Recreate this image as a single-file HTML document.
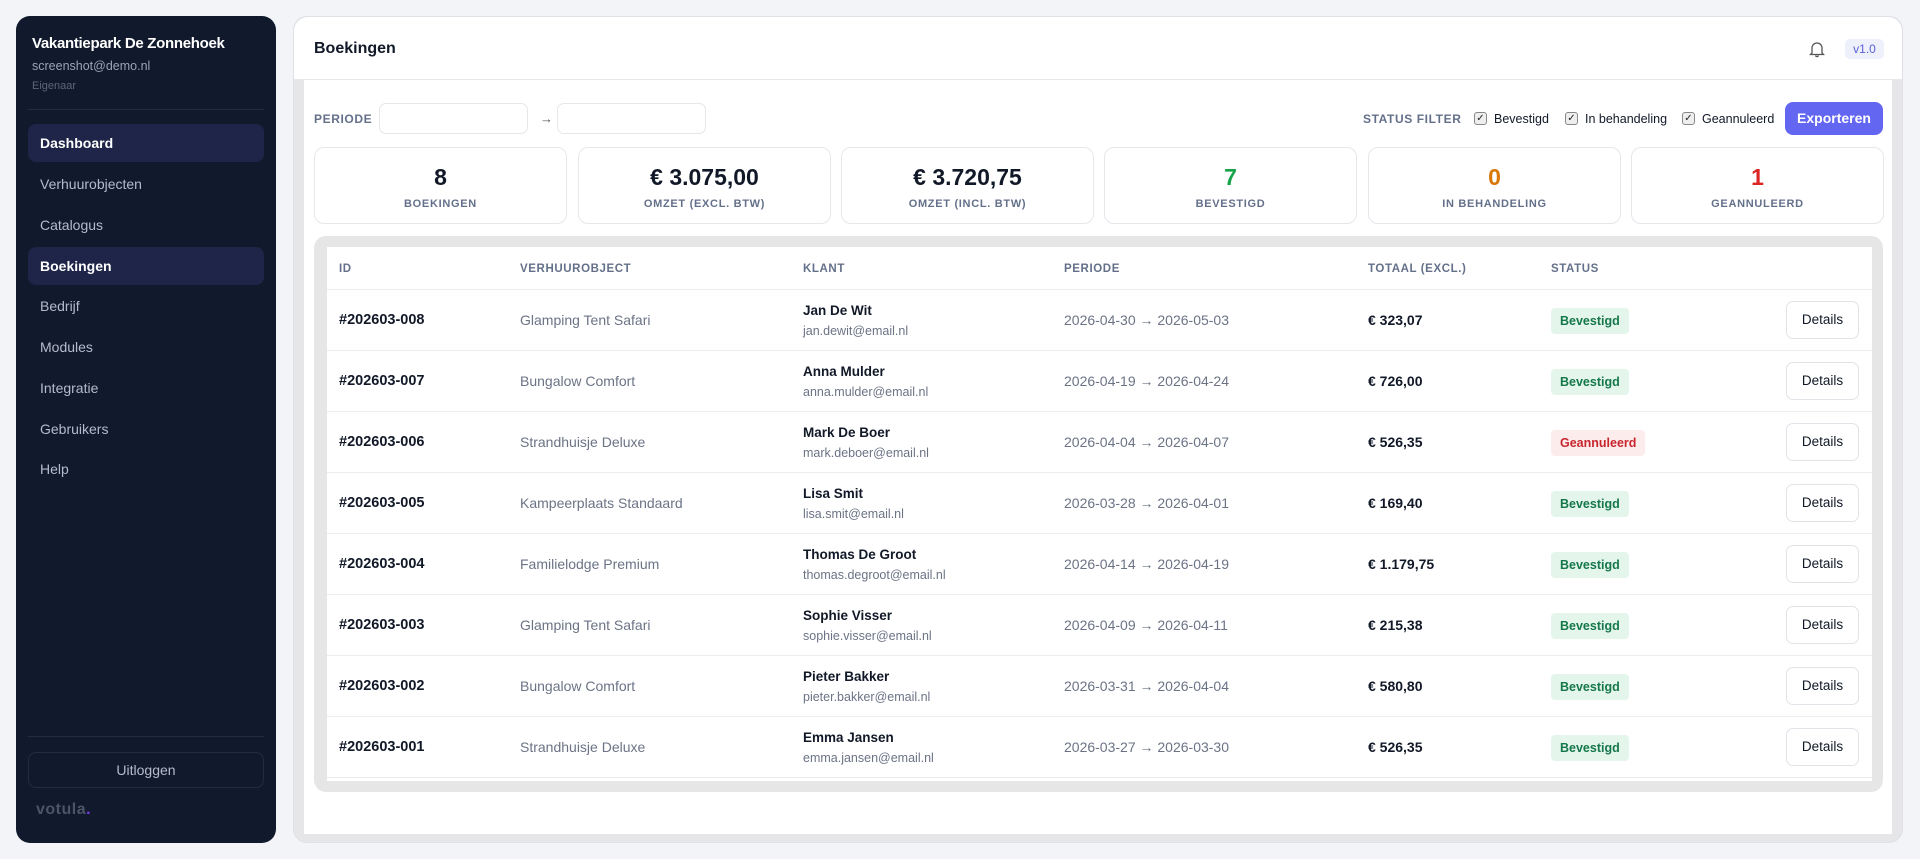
<!DOCTYPE html>
<html><head><meta charset="utf-8"><style>
*{box-sizing:border-box;margin:0;padding:0}
body{width:1920px;height:859px;background:#f3f4f8;font-family:"Liberation Sans",sans-serif;position:relative;overflow:hidden;color:#111827}
.side{position:absolute;left:16px;top:16px;width:260px;height:827px;background:#111a2c;border-radius:14px}
.side .t{position:absolute;left:16px;top:19px;color:#fff;font-weight:bold;font-size:15px;letter-spacing:-0.3px}
.side .e{position:absolute;left:16px;top:43px;color:#9aa3b5;font-size:12.5px}
.side .r{position:absolute;left:16px;top:64px;color:#5d6679;font-size:11px}
.side .d{position:absolute;left:12px;right:12px;height:1px;background:#232c40}
.nav{position:absolute;left:12px;width:236px;height:38px;border-radius:8px;color:#b4bccb;font-size:14px;line-height:38px;padding-left:12px}
.nav.a{background:#1e2548;color:#fff;font-weight:bold}
.logout{position:absolute;left:12px;top:736px;width:236px;height:36px;border:1px solid #232c40;border-radius:8px;color:#b4bccb;font-size:14px;text-align:center;line-height:34px}
.logo{position:absolute;left:20px;top:785px;color:#4b5468;font-weight:bold;font-size:16px;letter-spacing:0.5px}
.logo b{color:#7c3aed}
.main{position:absolute;left:293px;top:16px;width:1610px;height:827px;background:#e6e6e8;border-radius:14px;border:1px solid #dfe1e6}
.hdr{position:absolute;left:0;top:0;width:1608px;height:63px;background:#fff;border-radius:14px 14px 0 0;border-bottom:1px solid #e5e7eb}
.hdr .h{position:absolute;left:20px;top:23px;font-size:16px;font-weight:bold;color:#111827}
.ver{position:absolute;left:1551px;top:22px;width:39px;height:20px;background:#eef0fb;color:#5b5fd6;border-radius:5px;font-size:12px;text-align:center;line-height:20px}
.body{position:absolute;left:10px;top:63px;width:1588px;height:754px;background:#fff}
.lbl{font-size:12px;font-weight:bold;color:#64708a;letter-spacing:0.6px}
.inp{position:absolute;top:23px;width:149px;height:31px;border:1px solid #e5e7eb;border-radius:7px;background:#fff}
.cb{display:inline-block;width:13px;height:13px;border:1px solid #888;border-radius:3px;background:#eee;font-size:10px;line-height:11px;text-align:center;margin-right:7px;color:#222}
.fl{position:absolute;top:31px;font-size:12.5px;color:#111827;display:flex;align-items:center;height:15px}
.exp{position:absolute;left:1481px;top:22px;width:98px;height:33px;background:#6366f1;color:#fff;font-weight:bold;font-size:14px;border-radius:8px;text-align:center;line-height:33px}
.card{position:absolute;top:67px;width:253px;height:77px;border:1px solid #e5e7eb;border-radius:10px;text-align:center;background:#fff}
.card .v{margin-top:16px;font-size:23px;font-weight:bold;color:#111827;height:28px}
.card .l{margin-top:6px;font-size:11px;font-weight:bold;color:#64708a;letter-spacing:0.7px}
.tw{position:absolute;left:10px;top:156px;width:1569px;height:556px;background:#e6e6e6;border-radius:12px}
.tin{position:absolute;left:13px;top:11px;width:1545px;height:534px;background:#fff;overflow:hidden}
.th{position:absolute;top:0;height:42px;line-height:44px;font-size:11.5px;font-weight:bold;color:#64708a;letter-spacing:0.6px}
.row{position:absolute;left:0;width:1545px;height:61px;border-top:1px solid #ececef}
.row div{position:absolute}
.id{left:12px;top:22px;font-weight:bold;font-size:14.5px}
.ob{left:193px;top:22px;font-size:14px;color:#6b7385}
.nm{left:476px;top:13px;font-weight:bold;font-size:13.5px}
.em{left:476px;top:34px;font-size:12.5px;color:#6b7385}
.pe{left:737px;top:22px;font-size:14px;color:#6b7385}
.to{left:1041px;top:22px;font-weight:bold;font-size:14px}
.bd{left:1224px;top:18px;height:26px;line-height:26px;padding:0 9px;border-radius:4px;font-size:12.5px;font-weight:bold}
.ok{background:#e4f6ec;color:#16784a}
.no{background:#fdecec;color:#c8262e}
.dt{left:1459px;top:11px;width:73px;height:38px;border:1px solid #e1e3e8;border-radius:7px;font-size:13.5px;text-align:center;line-height:36px;color:#111827}
</style></head><body>
<div class="side">
<div class="t">Vakantiepark De Zonnehoek</div>
<div class="e">screenshot@demo.nl</div>
<div class="r">Eigenaar</div>
<div class="d" style="top:93px"></div>
<div class="nav a" style="top:108px">Dashboard</div>
<div class="nav" style="top:149px">Verhuurobjecten</div>
<div class="nav" style="top:190px">Catalogus</div>
<div class="nav a" style="top:231px">Boekingen</div>
<div class="nav" style="top:271px">Bedrijf</div>
<div class="nav" style="top:312px">Modules</div>
<div class="nav" style="top:353px">Integratie</div>
<div class="nav" style="top:394px">Gebruikers</div>
<div class="nav" style="top:434px">Help</div>
<div class="d" style="top:720px"></div>
<div class="logout">Uitloggen</div>
<div class="logo">votula<b>.</b></div>
</div>
<div class="main">
<div class="hdr"><div class="h">Boekingen</div>
<svg style="position:absolute;left:1515px;top:23px" width="16" height="18" viewBox="0 0 16 18"><path d="M3 13V8a5 5 0 0 1 10 0v5l1.5 1.5h-13z M6.5 15.5a1.6 1.6 0 0 0 3 0" fill="none" stroke="#555" stroke-width="1.3"/></svg>
<div class="ver">v1.0</div></div>
<div class="body">
<div class="lbl" style="position:absolute;left:10px;top:32px">PERIODE</div>
<div class="inp" style="left:75px"></div>
<div style="position:absolute;left:236px;top:31px;font-size:13px;color:#555">→</div>
<div class="inp" style="left:253px"></div>
<div class="lbl" style="position:absolute;left:1059px;top:32px">STATUS FILTER</div>
<div class="fl" style="left:1170px"><span class="cb">✓</span>Bevestigd</div>
<div class="fl" style="left:1261px"><span class="cb">✓</span>In behandeling</div>
<div class="fl" style="left:1378px"><span class="cb">✓</span>Geannuleerd</div>
<div class="exp">Exporteren</div>
<div class="card" style="left:10px"><div class="v">8</div><div class="l">BOEKINGEN</div></div>
<div class="card" style="left:274px"><div class="v">€ 3.075,00</div><div class="l">OMZET (EXCL. BTW)</div></div>
<div class="card" style="left:537px"><div class="v">€ 3.720,75</div><div class="l">OMZET (INCL. BTW)</div></div>
<div class="card" style="left:800px"><div class="v" style="color:#16a34a">7</div><div class="l">BEVESTIGD</div></div>
<div class="card" style="left:1064px"><div class="v" style="color:#d97706">0</div><div class="l">IN BEHANDELING</div></div>
<div class="card" style="left:1327px"><div class="v" style="color:#dc2626">1</div><div class="l">GEANNULEERD</div></div>
<div class="tw"><div class="tin">
<div class="th" style="left:12px">ID</div>
<div class="th" style="left:193px">VERHUUROBJECT</div>
<div class="th" style="left:476px">KLANT</div>
<div class="th" style="left:737px">PERIODE</div>
<div class="th" style="left:1041px">TOTAAL (EXCL.)</div>
<div class="th" style="left:1224px">STATUS</div>
<div class="row" style="top:42px"><div class="id">#202603-008</div><div class="ob">Glamping Tent Safari</div><div class="nm">Jan De Wit</div><div class="em">jan.dewit@email.nl</div><div class="pe">2026-04-30 → 2026-05-03</div><div class="to">€ 323,07</div><div class="bd ok">Bevestigd</div><div class="dt">Details</div></div>
<div class="row" style="top:103px"><div class="id">#202603-007</div><div class="ob">Bungalow Comfort</div><div class="nm">Anna Mulder</div><div class="em">anna.mulder@email.nl</div><div class="pe">2026-04-19 → 2026-04-24</div><div class="to">€ 726,00</div><div class="bd ok">Bevestigd</div><div class="dt">Details</div></div>
<div class="row" style="top:164px"><div class="id">#202603-006</div><div class="ob">Strandhuisje Deluxe</div><div class="nm">Mark De Boer</div><div class="em">mark.deboer@email.nl</div><div class="pe">2026-04-04 → 2026-04-07</div><div class="to">€ 526,35</div><div class="bd no">Geannuleerd</div><div class="dt">Details</div></div>
<div class="row" style="top:225px"><div class="id">#202603-005</div><div class="ob">Kampeerplaats Standaard</div><div class="nm">Lisa Smit</div><div class="em">lisa.smit@email.nl</div><div class="pe">2026-03-28 → 2026-04-01</div><div class="to">€ 169,40</div><div class="bd ok">Bevestigd</div><div class="dt">Details</div></div>
<div class="row" style="top:286px"><div class="id">#202603-004</div><div class="ob">Familielodge Premium</div><div class="nm">Thomas De Groot</div><div class="em">thomas.degroot@email.nl</div><div class="pe">2026-04-14 → 2026-04-19</div><div class="to">€ 1.179,75</div><div class="bd ok">Bevestigd</div><div class="dt">Details</div></div>
<div class="row" style="top:347px"><div class="id">#202603-003</div><div class="ob">Glamping Tent Safari</div><div class="nm">Sophie Visser</div><div class="em">sophie.visser@email.nl</div><div class="pe">2026-04-09 → 2026-04-11</div><div class="to">€ 215,38</div><div class="bd ok">Bevestigd</div><div class="dt">Details</div></div>
<div class="row" style="top:408px"><div class="id">#202603-002</div><div class="ob">Bungalow Comfort</div><div class="nm">Pieter Bakker</div><div class="em">pieter.bakker@email.nl</div><div class="pe">2026-03-31 → 2026-04-04</div><div class="to">€ 580,80</div><div class="bd ok">Bevestigd</div><div class="dt">Details</div></div>
<div class="row" style="top:469px"><div class="id">#202603-001</div><div class="ob">Strandhuisje Deluxe</div><div class="nm">Emma Jansen</div><div class="em">emma.jansen@email.nl</div><div class="pe">2026-03-27 → 2026-03-30</div><div class="to">€ 526,35</div><div class="bd ok">Bevestigd</div><div class="dt">Details</div></div>
<div class="row" style="top:530px"></div>
</div></div>
</div>
</div>
</body></html>
